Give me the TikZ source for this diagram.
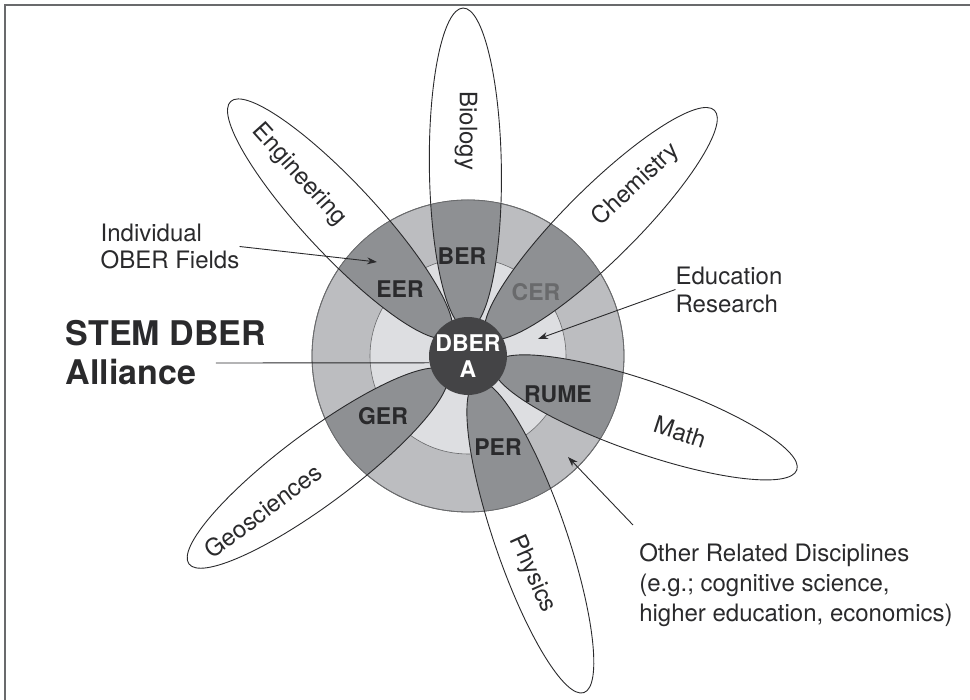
\documentclass[tikz,border=0pt]{standalone}
\usepackage{fontspec}
\setmainfont{TeX Gyre Heros}
\usepackage{tikz}
\usetikzlibrary{arrows.meta}
\definecolor{ringout}{RGB}{188,189,192}
\definecolor{ringin}{RGB}{221,222,225}
\definecolor{band}{RGB}{142,144,147}
\definecolor{hub}{RGB}{68,68,70}
\definecolor{ink}{RGB}{42,42,44}
\definecolor{rim}{RGB}{105,106,108}
\tikzstyle{petal} = [draw=ink, line width=0.9pt]
\tikzstyle{field} = [inner sep=0pt, text=ink, font=\fontsize{24}{28}\selectfont]
\tikzstyle{code} = [inner sep=0pt, text=ink, font=\fontsize{23}{26}\selectfont\bfseries]
\tikzstyle{note} = [inner sep=0pt, text=ink, align=left, font=\fontsize{24}{28}\selectfont]
\tikzstyle{arrow} = [draw=ink, line width=0.9pt, -{Stealth[length=10pt,width=7pt]}]
\tikzstyle{line} = [draw=ink, line width=0.9pt]

\begin{document}
\begin{tikzpicture}[x=1pt, y=1pt]
\useasboundingbox (-468,-344) rectangle (502,356);
% frame
\draw [rim, line width=2pt] (-463,-344) -- (-463,351) -- (502,351);

% rings
\filldraw [fill=ringout, draw=rim, line width=0.8pt] (0,0) circle (156);
\filldraw [fill=ringin, draw=rim, line width=0.6pt] (0,0) circle (98);

% petals inside the rings
\begin{scope}
\clip (0,0) circle (156);
\fill [band, rotate=90.8] (187.6,0) ellipse [x radius=160.4, y radius=36];
\fill [band, rotate=133] (187.6,0) ellipse [x radius=160.4, y radius=36];
\fill [band, rotate=44.9] (187.6,0) ellipse [x radius=160.4, y radius=36];
\fill [band, rotate=-19.1] (187.6,0) ellipse [x radius=160.4, y radius=36];
\fill [band, rotate=-71] (191.5,0) ellipse [x radius=164.5, y radius=36];
\fill [band, rotate=-143.3] (187.6,0) ellipse [x radius=160.4, y radius=36];
\end{scope}
\draw [rim, line width=0.8pt] (0,0) circle (156);

% petal outlines
\draw [petal, rotate=90.8] (187.6,0) ellipse [x radius=160.4, y radius=36];
\draw [petal, rotate=133] (187.6,0) ellipse [x radius=160.4, y radius=36];
\draw [petal, rotate=44.9] (187.6,0) ellipse [x radius=160.4, y radius=36];
\draw [petal, rotate=-19.1] (187.6,0) ellipse [x radius=160.4, y radius=36];
\draw [petal, rotate=-71] (191.5,0) ellipse [x radius=164.5, y radius=36];
\draw [petal, rotate=-143.3] (187.6,0) ellipse [x radius=160.4, y radius=36];

\node (dbera) [circle, fill=hub, minimum size=76pt, inner sep=0pt, align=center, text=white, font=\fontsize{23}{26}\selectfont\bfseries] at (0,0) {DBER\\A};

% field names
\node (bio) [field, rotate=-90] at (-2,225) {Biology};
\node (eng) [field, rotate=-48] at (-169,181) {Engineering};
\node (chem) [field, rotate=43] at (168,171) {Chemistry};
\node (math) [field, rotate=-18] at (212,-76) {Math};
\node (phys) [field, rotate=-66] at (64,-218) {Physics};
\node (geo) [field, rotate=37] at (-205,-155) {Geosciences};

% research fields
\node (ber) [code] at (-6,100) {BER};
\node (eer) [code] at (-68,67) {EER};
\node (cer) [code, text=rim] at (68,64) {CER};
\node (rume) [code] at (90,-38) {RUME};
\node (ger) [code] at (-85,-60) {GER};
\node (per) [code] at (30,-91) {PER};

% notes
\node (ind) [note, font=\fontsize{24}{27}\selectfont] at (-298,109.5) {Individual\\OBER Fields};
\node (edu) [note] at (261,66.5) {Education\\Research};
\node (oth) [note, font=\fontsize{24}{30}\selectfont] at (328,-229) {Other Related Disciplines\\(e.g.; cognitive science,\\higher education, economics)};
\node (stem) [note, font=\fontsize{34}{39}\selectfont\bfseries] at (-302,3.5) {STEM DBER\\Alliance};

\coordinate (indtip) at (-91,94);
\coordinate (edutip) at (70,17);
\coordinate (othtip) at (100,-101);
\coordinate (othend) at (165,-169);
\coordinate (stemend) at (-252,-7);

\draw [arrow] (ind.east) -- (indtip);
\draw [arrow] (edu.west) -- (edutip);
\draw [arrow] (othend) -- (othtip);
\draw [line] (stemend) -- (dbera.190);
\end{tikzpicture}
\end{document}
